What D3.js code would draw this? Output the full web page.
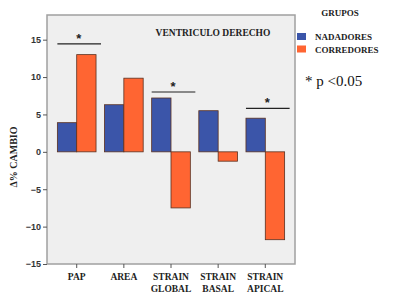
<!DOCTYPE html>
<html><head><meta charset="utf-8">
<script src="https://cdn.jsdelivr.net/npm/d3@7"></script>
<style>body{margin:0;background:#fff}svg{display:block}</style>
</head><body>
<svg id="c" width="413" height="304"></svg>
<script>
const categories = [["PAP"],["AREA"],["STRAIN","GLOBAL"],["STRAIN","BASAL"],["STRAIN","APICAL"]];
const seriesNames = ["NADADORES","CORREDORES"];
const nadadores = [3.9, 6.3, 7.2, 5.5, 4.5];
const corredores = [13.0, 9.85, -7.5, -1.25, -11.75];
const yTicks = [-15,-10,-5,0,5,10,15];
const sigGroups = [0, 2, 4];
const sigLevels = [14.45, 8.0, 5.8];
const colors = ["#3b55a9","#ff6532"];

const svg = d3.select("#c");
const L=47, R=295, T=15, B=264;
const x = d3.scaleBand().domain(d3.range(categories.length)).range([L,R]).paddingInner(0.18).paddingOuter(0.22);
const xs = d3.scaleBand().domain([0,1]).range([0,x.bandwidth()]);
const y = d3.scaleLinear().domain([-15,18.3]).range([B,T]);

svg.append("rect").attr("x",L).attr("y",T).attr("width",R-L).attr("height",B-T)
  .attr("fill","#efefef").attr("stroke","#a0a0a0").attr("stroke-width",1.5);

const data = [nadadores, corredores];
data.forEach((vals,si)=>{
  svg.append("g").selectAll("rect").data(vals).join("rect")
    .attr("x",(d,i)=>x(i)+xs(si))
    .attr("width",xs.bandwidth())
    .attr("y",d=>y(Math.max(0,d)))
    .attr("height",d=>Math.abs(y(d)-y(0)))
    .attr("fill",colors[si]).attr("stroke","#5a3020").attr("stroke-width",0.8);
});

const ya = svg.append("g").attr("transform",`translate(${L},0)`)
  .call(d3.axisLeft(y).tickValues(yTicks).tickSize(4).tickFormat(d3.format("d")));
ya.select(".domain").remove();
ya.selectAll("line").attr("stroke","#555");
ya.selectAll("text").attr("font-family","Liberation Sans, Arial, sans-serif").attr("font-size",9).attr("font-weight","bold").attr("fill","#333").attr("dx",1);

const xa = svg.append("g").attr("transform",`translate(0,${B})`)
  .call(d3.axisBottom(x).tickSize(4).tickFormat(""));
xa.select(".domain").remove();
xa.selectAll("line").attr("stroke","#555");
const lbl = svg.append("g").selectAll("text").data(categories).join("text")
  .attr("x",(d,i)=>x(i)+x.bandwidth()/2)
  .attr("y",280)
  .attr("text-anchor","middle")
  .attr("font-family","Liberation Serif, Times New Roman, serif")
  .attr("font-weight","bold").attr("font-size",9.5).attr("fill","#222");
lbl.selectAll("tspan").data(d=>d).join("tspan")
  .attr("x",function(){return d3.select(this.parentNode).attr("x");})
  .attr("dy",(d,j)=>j===0?0:11.5).text(d=>d);

// significance
sigGroups.forEach((g,k)=>{
  const yy = y(sigLevels[k]);
  svg.append("line").attr("x1",x(g)).attr("x2",x(g)+x.bandwidth()+5)
    .attr("y1",yy).attr("y2",yy).attr("stroke","#222").attr("stroke-width",1.2);
  svg.append("text").attr("x",x(g)+x.bandwidth()/2+2).attr("y",yy-1)
    .attr("text-anchor","middle").attr("font-family","Liberation Sans, Arial, sans-serif")
    .attr("font-weight","bold").attr("font-size",13).attr("fill","#222").text("*");
});

svg.append("text").attr("x",213).attr("y",36).attr("text-anchor","middle")
  .attr("font-family","Liberation Serif, Times New Roman, serif").attr("font-weight","bold")
  .attr("font-size",9.5).attr("fill","#222").text("VENTRICULO DERECHO");

svg.append("text").attr("transform","translate(17,157) rotate(-90)").attr("text-anchor","middle")
  .attr("font-family","Liberation Serif, Times New Roman, serif").attr("font-weight","bold")
  .attr("font-size",10).attr("fill","#222").text("Δ% CAMBIO");

// legend
svg.append("text").attr("x",340).attr("y",16).attr("text-anchor","middle")
  .attr("font-family","Liberation Serif, Times New Roman, serif").attr("font-weight","bold")
  .attr("font-size",9).attr("fill","#222").text("GRUPOS");
seriesNames.forEach((s,i)=>{
  svg.append("rect").attr("x",297).attr("y",33+i*12.5).attr("width",9).attr("height",7)
    .attr("fill",colors[i]);
  svg.append("text").attr("x",315).attr("y",40+i*12.5)
    .attr("font-family","Liberation Serif, Times New Roman, serif").attr("font-weight","bold")
    .attr("font-size",9).attr("fill","#222").text(s);
});
svg.append("text").attr("x",305).attr("y",86)
  .attr("font-family","Liberation Serif, Times New Roman, serif")
  .attr("font-size",15).attr("fill","#111").text("* p <0.05");
</script>
</body></html>
